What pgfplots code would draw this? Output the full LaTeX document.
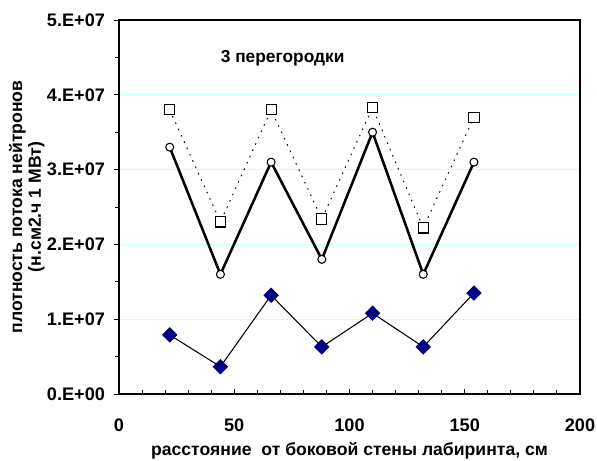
\documentclass[border=0pt]{standalone}
\usepackage{pgfplots}
\pgfplotsset{compat=1.18}
\usepackage{fontspec}
\setmainfont{Liberation Sans}
\definecolor{gridc}{RGB}{204,255,255}
\definecolor{navy}{RGB}{0,0,128}
\begin{document}
\begin{tikzpicture}
\path[use as bounding box] (-89.25pt,-50.25pt) rectangle (358.5pt,295.5pt);
\begin{axis}[
  at={(0,0)}, anchor=south west,
  scale only axis, width=345.75pt, height=280.5pt,
  xmin=0, xmax=200, ymin=0, ymax=5e7,
  xtick={0,50,100,150,200},
  xticklabels={0,50,100,150,200},
  minor x tick num=4,
  ytick={0,1e7,2e7,3e7,4e7,5e7},
  yticklabels={0.E+00,1.E+07,2.E+07,3.E+07,4.E+07,5.E+07},
  minor y tick num=1,
  xtick align=inside, ytick align=outside,
  major tick length=4pt, minor tick length=3pt,
  xtick pos=bottom, ytick pos=left,
  ymajorgrids,
  major grid style={gridc, line width=0.7pt},
  axis line style={black, line width=0.8pt},
  tick style={black, line width=0.7pt},
  ticklabel style={font=\fontsize{13.6}{15}\selectfont\bfseries},
  xticklabel style={yshift=-15pt},
  yticklabel style={xshift=-3pt},
  scaled y ticks=false,
  xlabel={расстояние\ \ от боковой стены лабиринта, см},
  xlabel style={at={(axis description cs:0.5,-0.153)}, anchor=center, font=\fontsize{13.2}{15}\selectfont\bfseries},
  ylabel={плотность потока нейтронов\\(н.см2.ч 1 МВт)},
  ylabel style={at={(axis description cs:-0.2,0.5)}, anchor=center, align=center, font=\fontsize{13.2}{14}\selectfont\bfseries},
  clip=false,
]
\addplot[black, line width=0.7pt, dash pattern=on 1.2pt off 4pt, mark=square*, mark size=3.8pt, mark options={solid, fill=white, line width=0.8pt}]
  coordinates {(22,3.80e7) (44,2.30e7) (66,3.80e7) (88,2.34e7) (110,3.83e7) (132,2.22e7) (154,3.70e7)};
\addplot[black, line width=1.9pt, mark=*, mark size=3pt, mark options={fill=white, line width=0.8pt}]
  coordinates {(22,3.30e7) (44,1.60e7) (66,3.10e7) (88,1.80e7) (110,3.50e7) (132,1.60e7) (154,3.10e7)};
\addplot[black, line width=0.8pt, mark=square*, mark size=3.7pt, mark options={rotate=45, fill=navy, draw=navy}]
  coordinates {(22,0.79e7) (44,0.365e7) (66,1.32e7) (88,0.63e7) (110,1.08e7) (132,0.63e7) (154,1.35e7)};
\node[font=\fontsize{13}{15}\selectfont\bfseries] at (axis cs:71,4.49e7) {3 перегородки};
\end{axis}
\end{tikzpicture}
\end{document}
